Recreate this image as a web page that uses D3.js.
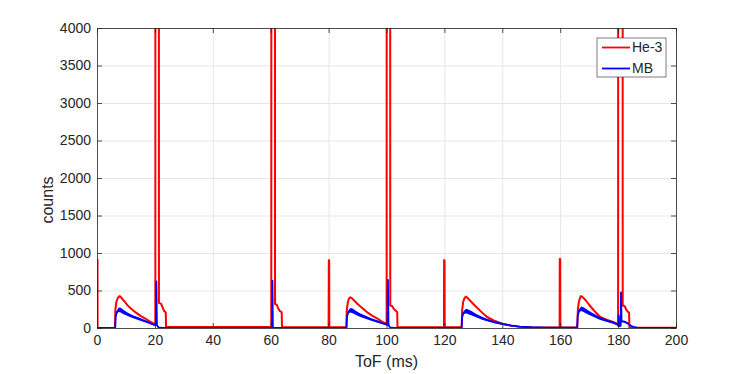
<!DOCTYPE html>
<html>
<head>
<meta charset="utf-8">
<script src="https://cdn.jsdelivr.net/npm/d3@7"></script>
<style>
  body { margin: 0; background: #fff; }
  text { font-family: "Liberation Sans", Arial, sans-serif; fill: #262626; }
</style>
</head>
<body>
<svg width="747" height="374"></svg>
<script>
var xTickValues = [0, 20, 40, 60, 80, 100, 120, 140, 160, 180, 200];
var yTickValues = [0, 500, 1000, 1500, 2000, 2500, 3000, 3500, 4000];
var seriesNames = ["He-3", "MB"];

// He-3 counts: [ToF ms, counts]
var heData = [
  [0, 0], [0.03, 910], [0.17, 910], [0.2, 0],
  [6.2, 0], [6.35, 250], [6.7, 350], [7.2, 400], [7.8, 425], [8.4, 405], [9.0, 375], [9.6, 350],
  [10.5, 305], [11.7, 260], [13.0, 218], [14.9, 165], [16.5, 128], [18.2, 90], [19.9, 52], [20.15, 45],
  [20.2, 20000], [21.3, 20000], [21.4, 335], [22.1, 325], [22.5, 290], [23.2, 225], [23.75, 210], [23.85, 12],
  [60.2, 12], [60.3, 20000], [61.4, 20000], [61.5, 320], [62.1, 310], [62.6, 260], [63.2, 225], [63.8, 210], [63.9, 10],
  [80.0, 10], [80.08, 905], [80.2, 905], [80.25, 10],
  [86.1, 10], [86.3, 250], [86.7, 350], [87.0, 390], [87.5, 410], [88.1, 395], [89.0, 360], [90.0, 320],
  [91.5, 270], [93.0, 220], [95.0, 165], [96.7, 128], [98.3, 90], [99.9, 55], [100.05, 50],
  [100.1, 20000], [101.2, 20000], [101.3, 300], [102.0, 290], [102.5, 255], [103.2, 230], [103.7, 210], [103.8, 10],
  [119.85, 10], [119.9, 905], [120.05, 905], [120.1, 10],
  [125.95, 10], [126.15, 250], [126.5, 350], [126.9, 395], [127.4, 418], [128.0, 400], [129.0, 360], [130.5, 300],
  [132.5, 225], [134.6, 150], [137.0, 100], [140.3, 55], [143.0, 32], [146.0, 18], [150.0, 10], [155.0, 7], [159.8, 6],
  [159.85, 920], [160.0, 920], [160.05, 6],
  [165.9, 6], [166.1, 250], [166.5, 360], [166.9, 405], [167.2, 425], [167.8, 410], [168.8, 370], [170.0, 310],
  [171.5, 240], [173.7, 150], [176.0, 110], [178.3, 82], [179.9, 55], [180.0, 50],
  [180.1, 20000], [181.5, 20000], [181.6, 300], [182.3, 290], [182.8, 245], [183.4, 215], [183.8, 205], [183.9, 5],
  [200, 5]
];

// MB counts: [ToF ms, counts, noise half-width]
var mbData = [
  [0, 0, 0], [6.3, 0, 0], [6.45, 150, 6], [6.9, 215, 20], [7.5, 243, 30], [8.2, 238, 32], [9.0, 218, 30],
  [10.0, 195, 26], [11.0, 175, 22], [12.5, 148, 19], [14.3, 125, 17], [16.0, 100, 15], [17.7, 75, 13],
  [19.2, 50, 10], [20.3, 35, 6], [20.5, 620, 0], [20.7, 40, 0], [21.2, 8, 3], [22.5, 0, 0],
  [60.45, 0, 0], [60.6, 630, 0], [60.75, 0, 0],
  [86.2, 0, 0], [86.35, 150, 6], [86.8, 215, 20], [87.5, 238, 30], [88.3, 228, 32], [89.5, 200, 28],
  [91.0, 170, 23], [93.0, 140, 19], [95.0, 110, 16], [97.0, 85, 14], [98.8, 60, 11], [100.3, 40, 7],
  [100.5, 640, 0], [100.7, 40, 0], [101.2, 8, 3], [102.5, 0, 0],
  [125.95, 0, 0], [126.1, 140, 6], [126.6, 200, 20], [127.4, 226, 30], [128.3, 216, 32], [129.5, 195, 28],
  [131.0, 165, 23], [133.0, 130, 19], [134.6, 108, 16], [137.0, 80, 14], [140.3, 52, 11], [143.0, 32, 9],
  [146.0, 18, 7], [150.0, 10, 5], [155.0, 6, 4], [160.0, 4, 3],
  [165.85, 4, 3], [166.05, 160, 6], [166.5, 230, 20], [167.3, 258, 30], [168.2, 243, 32], [169.5, 212, 28],
  [171.0, 180, 23], [173.7, 128, 19], [176.0, 98, 15], [178.3, 72, 12], [179.8, 45, 9], [180.1, 25, 4],
  [180.2, 170, 0], [180.35, 25, 0], [180.9, 30, 0], [181.0, 475, 0], [181.2, 90, 6], [182.2, 85, 10],
  [183.2, 65, 10], [184.2, 35, 7], [185.5, 10, 4], [187, 3, 2], [200, 0, 0]
];

var svg = d3.select("svg"),
    margin = {top: 28, right: 71, bottom: 46, left: 97},
    width = 747 - margin.left - margin.right,
    height = 374 - margin.top - margin.bottom,
    g = svg.append("g").attr("transform", "translate(" + margin.left + "," + margin.top + ")");

var x = d3.scaleLinear().domain([0, 200]).range([0, width]);
var y = d3.scaleLinear().domain([0, 4000]).range([height, 0]);

// grid
g.append("g")
    .attr("transform", "translate(0," + height + ")")
    .call(d3.axisBottom(x).tickValues(xTickValues).tickSize(-height).tickFormat(""))
    .call(function(s) { s.select(".domain").remove(); s.selectAll("line").attr("stroke", "#e6e6e6"); });
g.append("g")
    .call(d3.axisLeft(y).tickValues(yTickValues).tickSize(-width).tickFormat(""))
    .call(function(s) { s.select(".domain").remove(); s.selectAll("line").attr("stroke", "#e6e6e6"); });

g.append("clipPath").attr("id", "clip")
  .append("rect").attr("width", width).attr("height", height);

var plot = g.append("g").attr("clip-path", "url(#clip)");

var line = d3.line()
    .x(function(d) { return x(d[0]); })
    .y(function(d) { return y(d[1]); });

var band = d3.area()
    .x(function(d) { return x(d[0]); })
    .y0(function(d) { return y(d[1] - d[2]); })
    .y1(function(d) { return y(d[1] + d[2]); });

plot.append("path")
    .datum(heData)
    .attr("fill", "none")
    .attr("stroke", "#ff0000")
    .attr("stroke-width", 2)
    .attr("stroke-linejoin", "round")
    .attr("d", line);

plot.append("path")
    .datum(mbData)
    .attr("fill", "#0000ff")
    .attr("d", band);

plot.append("path")
    .datum(mbData)
    .attr("fill", "none")
    .attr("stroke", "#0000ff")
    .attr("stroke-width", 1.8)
    .attr("stroke-linejoin", "round")
    .attr("d", line);

// axes with inward ticks on all sides
function styleAxis(s) {
  s.select(".domain").attr("stroke", "#262626").attr("stroke-width", 0.8);
  s.selectAll(".tick line").attr("stroke", "#262626").attr("stroke-width", 0.8);
  s.selectAll("text").attr("font-size", "14px").attr("fill", "#262626")
    .style("font-family", "'Liberation Sans', Arial, sans-serif");
}

g.append("g")
    .attr("transform", "translate(0," + height + ")")
    .call(d3.axisBottom(x).tickValues(xTickValues).tickFormat(d3.format("d"))
      .tickSizeInner(-5).tickSizeOuter(0).tickPadding(7))
    .call(styleAxis);
g.append("g")
    .call(d3.axisTop(x).tickValues(xTickValues).tickSizeInner(-5).tickSizeOuter(0).tickFormat(""))
    .call(styleAxis);
g.append("g")
    .call(d3.axisLeft(y).tickValues(yTickValues).tickFormat(d3.format("d"))
      .tickSizeInner(-5).tickSizeOuter(0).tickPadding(6))
    .call(styleAxis);
g.append("g")
    .attr("transform", "translate(" + width + ",0)")
    .call(d3.axisRight(y).tickValues(yTickValues).tickSizeInner(-5).tickSizeOuter(0).tickFormat(""))
    .call(styleAxis);

g.append("text")
    .attr("x", width / 2)
    .attr("y", height + 39)
    .attr("text-anchor", "middle")
    .style("font-size", "16px")
    .text("ToF (ms)");

g.append("text")
    .attr("transform", "translate(-44," + (height / 2 + 22) + ") rotate(-90)")
    .attr("text-anchor", "middle")
    .style("font-size", "16px")
    .text("counts");

// legend
var legend = svg.append("g").attr("transform", "translate(597,38)");
legend.append("rect")
    .attr("width", 69).attr("height", 39)
    .attr("fill", "#fff")
    .attr("stroke", "#262626").attr("stroke-width", 0.6);
var colors = ["#ff0000", "#0000ff"];
seriesNames.forEach(function(name, i) {
  var ly = 9.5 + i * 21;
  legend.append("line")
      .attr("x1", 5).attr("x2", 33).attr("y1", ly).attr("y2", ly)
      .attr("stroke", colors[i]).attr("stroke-width", 1.8);
  legend.append("text")
      .attr("x", 35).attr("y", ly).attr("dy", "0.35em")
      .style("font-size", "14px")
      .text(name);
});
</script>
</body>
</html>
